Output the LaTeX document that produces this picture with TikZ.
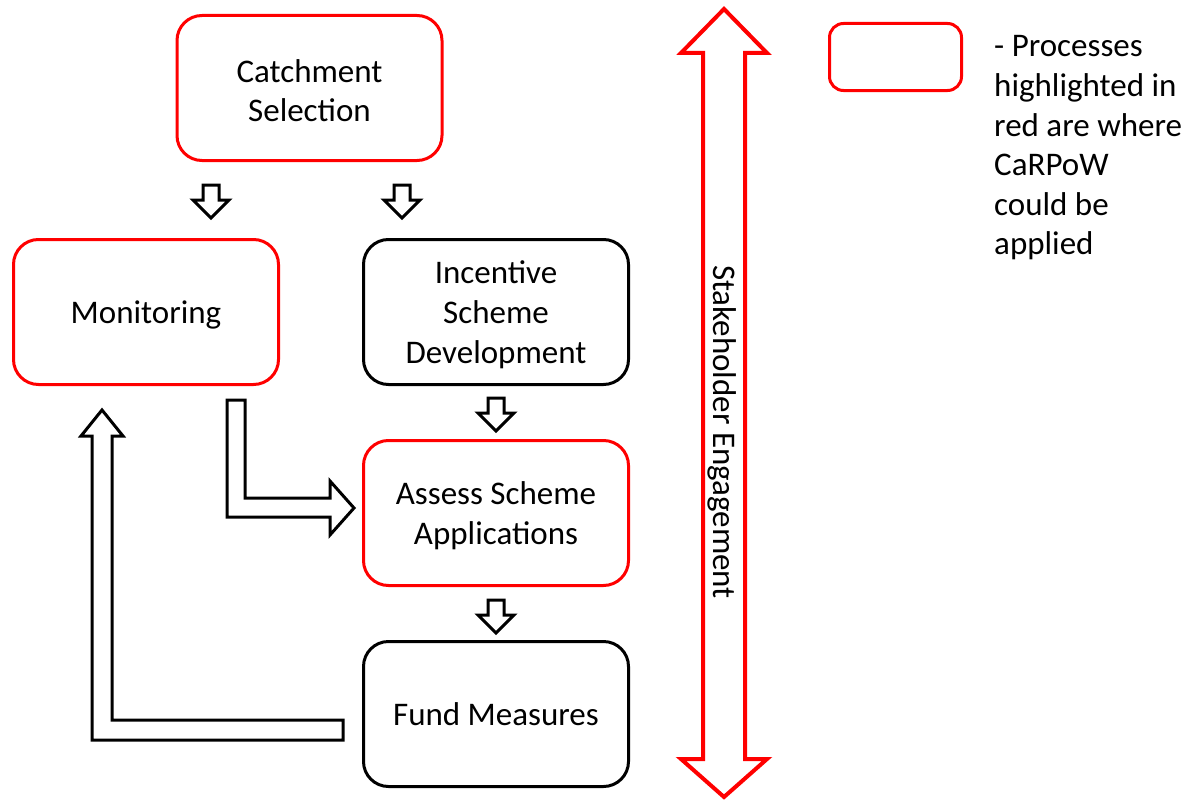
\documentclass[tikz,border=0pt]{standalone}
\usepackage{fontspec}
\setmainfont{Carlito}
\newcommand{\boxtext}[2][-3pt]{\raisebox{#1}[\height][\depth]{\begin{tabular}{@{}c@{}}#2\end{tabular}}}
\begin{document}
\begin{tikzpicture}[x=1pt,y=-1pt,
  box/.style={draw, line width=3pt, rounded corners=25pt, minimum width=265pt, minimum height=145pt,
    align=center, inner sep=0pt, font=\fontsize{33}{40}\selectfont},
  redbox/.style={box, draw=red},
  blackbox/.style={box, draw=black},
  blockarrow/.style={draw=black, line width=3pt, fill=white, line join=miter},
  pics/downarrow/.style={code={
    \draw[blockarrow] (-8,0) -- (8,0) -- (8,15) -- (18,15) -- (0,33) -- (-18,15) -- (-8,15) -- cycle;
  }}
]
\useasboundingbox (0,0) rectangle (1191,800);

\node[redbox] (catch) at (309.5,88) {\boxtext[-6pt]{Catchment\\Selection}};
\node[redbox] (mon) at (146,312) {\boxtext{Monitoring}};
\node[blackbox] (inc) at (496,312) {\boxtext{Incentive\\Scheme\\Development}};
\node[redbox] (assess) at (496,513) {\boxtext{Assess Scheme\\Applications}};
\node[blackbox] (fund) at (496,714) {\boxtext{Fund Measures}};

% small down arrows
\pic at (211,185) {downarrow};
\pic at (402,185) {downarrow};
\pic at (496,398) {downarrow};
\pic at (496,600) {downarrow};

% bent arrow monitoring -> assess
\draw[blockarrow] (227,400) -- (245,400) -- (245,498) -- (330,498) -- (330,481) -- (354,508)
  -- (330,535) -- (330,517) -- (227,517) -- cycle;

% bent arrow fund -> monitoring
\draw[blockarrow] (343,720) -- (112,720) -- (112,436) -- (123,436) -- (102,410) -- (81,436)
  -- (92,436) -- (92,740) -- (343,740) -- cycle;

% stakeholder double arrow
\draw[draw=red, line width=4pt, fill=white, line join=miter]
  (724,9) -- (767,53) -- (745,53) -- (745,759) -- (767,759) -- (724,797) -- (681,759)
  -- (703,759) -- (703,53) -- (681,53) -- cycle;
\node[rotate=-90, font=\fontsize{33}{40}\selectfont] (stake) at (722,432) {Stakeholder Engagement};

% legend
\node[draw=red, line width=3pt, rounded corners=14pt, minimum width=132pt, minimum height=67pt] (leg) at (895.5,57) {};
\node[anchor=north west, inner sep=0pt, align=left, font=\fontsize{33}{39.6}\selectfont] (legtext) at (994,29)
  {\strut- Processes\\highlighted in\\red are where\\CaRPoW\\could be\\applied};
\end{tikzpicture}
\end{document}
